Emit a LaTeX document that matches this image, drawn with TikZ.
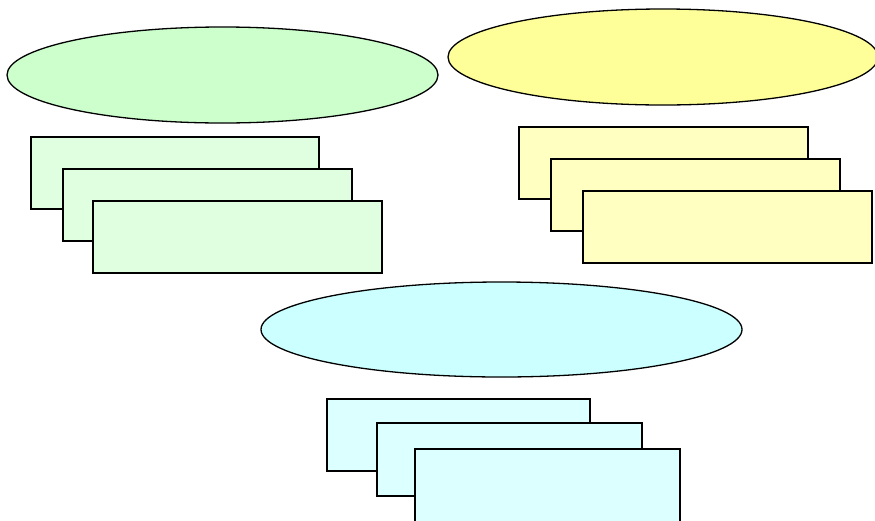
\documentclass[tikz,border=0pt]{standalone}
\usetikzlibrary{shapes.geometric}
\definecolor{gEll}{HTML}{CCFFCC}
\definecolor{gBox}{HTML}{E0FFE0}
\definecolor{yEll}{HTML}{FFFF99}
\definecolor{yBox}{HTML}{FFFFC2}
\definecolor{cEll}{HTML}{CCFFFF}
\definecolor{cBox}{HTML}{DCFFFF}
\tikzset{
  ell/.style={ellipse, draw=black, line width=1.3pt, inner sep=0pt, outer sep=0pt},
  card/.style={rectangle, draw=black, line width=1.3pt, inner sep=0pt, outer sep=0pt, anchor=north west}
}
\begin{document}
\begin{tikzpicture}[x=1pt,y=-1pt]
\useasboundingbox (0,0) rectangle (875,520);
\clip (0,0) rectangle (875,520);
% green group
\node[ell, fill=gEll, minimum width=431pt, minimum height=96pt] (gE) at (222.5,75) {};
\node[card, fill=gBox, minimum width=288pt, minimum height=72pt] (g1) at (31,137) {};
\node[card, fill=gBox, minimum width=289pt, minimum height=72pt] (g2) at (63,169) {};
\node[card, fill=gBox, minimum width=289pt, minimum height=72pt] (g3) at (93,201) {};
% yellow group
\node[ell, fill=yEll, minimum width=430pt, minimum height=96pt] (yE) at (663,57) {};
\node[card, fill=yBox, minimum width=289pt, minimum height=72pt] (y1) at (519,127) {};
\node[card, fill=yBox, minimum width=289pt, minimum height=72pt] (y2) at (551,159) {};
\node[card, fill=yBox, minimum width=289pt, minimum height=72pt] (y3) at (583,191) {};
% cyan group
\node[ell, fill=cEll, minimum width=481pt, minimum height=95pt] (cE) at (501.5,329.5) {};
\node[card, fill=cBox, minimum width=263pt, minimum height=72pt] (c1) at (327,399) {};
\node[card, fill=cBox, minimum width=265pt, minimum height=73pt] (c2) at (377,423) {};
\node[card, fill=cBox, minimum width=265pt, minimum height=80pt] (c3) at (415,449) {};
\end{tikzpicture}
\end{document}
